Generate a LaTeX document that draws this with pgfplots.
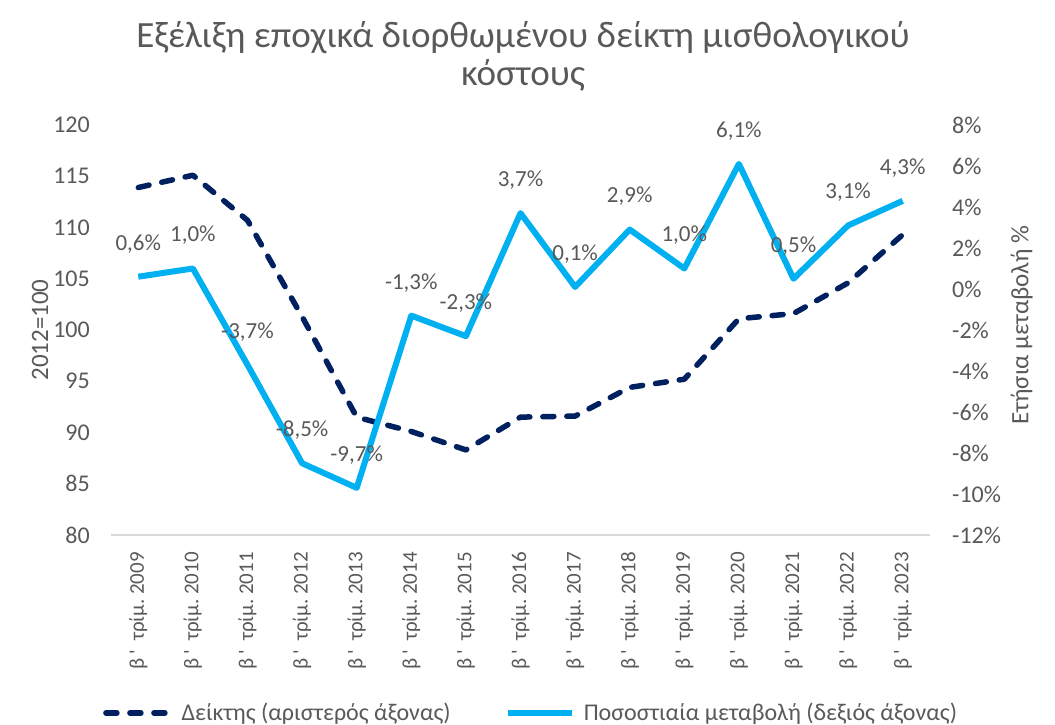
\documentclass[border=0pt]{standalone}
\usepackage{fontspec}
\setmainfont{Carlito}
\usepackage{pgfplots}
\pgfplotsset{compat=1.18}
\definecolor{navy}{HTML}{002060}
\definecolor{lblue}{HTML}{00B0F0}
\definecolor{txt}{HTML}{595959}
\definecolor{axgrey}{HTML}{D9D9D9}

\pgfplotstableread{
x y
0 113.9
1 115.1
2 110.7
3 101.3
4 91.5
5 90.1
6 88.3
7 91.5
8 91.6
9 94.4
10 95.2
11 101.1
12 101.6
13 104.6
14 109.3
}\indexdata

\pgfplotstableread{
x y
0 0.6
1 1.0
2 -3.7
3 -8.5
4 -9.7
5 -1.3
6 -2.3
7 3.7
8 0.1
9 2.9
10 1.0
11 6.1
12 0.5
13 3.1
14 4.3
}\changedata

\newcommand{\bq}{β\hspace{4pt}\textquotesingle\hspace{9pt}τρίμ.\ }

\begin{document}
\begin{tikzpicture}[x=1pt,y=1pt]
\path[use as bounding box] (-111,-190) rectangle (944,535);
\node[text=txt, font=\fontsize{37}{38}\selectfont, align=center] at (412,479)
  {Εξέλιξη εποχικά διορθωμένου δείκτη μισθολογικού\\κόστους};

\pgfplotsset{
  base/.style={
    scale only axis, width=819pt, height=410pt,
    xmin=-0.5, xmax=14.5,
    major tick length=0pt, tick style={draw=none},
    y axis line style={draw=none},
    yticklabel style={font=\fontsize{24}{26}\selectfont, text=txt, inner sep=0pt},
    ylabel style={font=\fontsize{25}{28}\selectfont, text=txt},
  }
}

\begin{axis}[base,
  ymin=80, ymax=120,
  ytick={80,85,...,120},
  yticklabels={80,85,90,95,100,105,110,115,120},
  yticklabel shift=21pt,
  xtick={0,...,14},
  xticklabels={\bq 2009,\bq 2010,\bq 2011,\bq 2012,\bq 2013,\bq 2014,\bq 2015,\bq 2016,\bq 2017,\bq 2018,\bq 2019,\bq 2020,\bq 2021,\bq 2022,\bq 2023},
  xticklabel style={rotate=90, anchor=east, inner sep=0pt, font=\fontsize{21}{23}\selectfont, text=txt},
  xticklabel shift=17pt,
  axis x line*=bottom, axis y line*=left,
  x axis line style={draw=axgrey, line width=1.5pt, -},
  ylabel={2012=100},
  ylabel style={at={(axis description cs:-0.0867,0.5)}, anchor=center},
]
\addplot[navy, line width=5.5pt, line cap=round, line join=round, dash pattern=on 11pt off 13pt] table[x=x,y=y] {\indexdata};
\end{axis}

\begin{axis}[base,
  ymin=-12, ymax=8,
  ytick={-12,-10,...,8},
  yticklabels={-12\%,-10\%,-8\%,-6\%,-4\%,-2\%,0\%,2\%,4\%,6\%,8\%},
  yticklabel shift=22pt,
  axis x line=none, axis y line*=right,
  ylabel={Ετήσια μεταβολή \%},
  ylabel style={at={(axis description cs:1.112,0.512)}, anchor=center},
  /pgf/number format/assume math mode=true,
  legend style={draw=none, fill=none, at={(axis description cs:0.513,-0.434)}, anchor=center,
    font=\fontsize{24}{26}\selectfont, text=txt,
    /tikz/every even column/.append style={column sep=52pt}},
  legend columns=2,
  legend image code/.code={\draw[#1] (0pt,0pt) -- (64pt,0pt); \path (71pt,0pt);},
]
\addlegendimage{navy, line width=5.5pt, line cap=round, dash pattern=on 11pt off 13pt}
\addlegendentry{Δείκτης (αριστερός άξονας)}
\addplot[lblue, line width=6pt, line join=round,
  point meta=y,
  nodes near coords={\pgfmathprintnumber[fixed,fixed zerofill,precision=1,use comma]{\pgfplotspointmeta}\%},
  every node near coord/.append style={anchor=center, yshift=33pt, font=\fontsize{23}{26}\selectfont, text=txt},
] table[x=x,y=y] {\changedata};
\addlegendentry{Ποσοστιαία μεταβολή (δεξιός άξονας)}
\end{axis}
\end{tikzpicture}
\end{document}
